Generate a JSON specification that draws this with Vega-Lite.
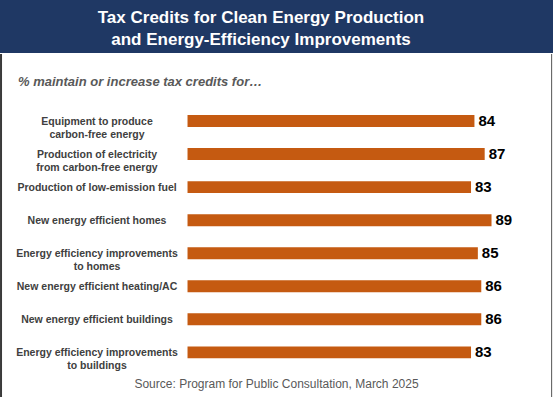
{
  "$schema": "https://vega.github.io/schema/vega-lite/v6.json",
  "padding": 0,
  "spacing": 0,
  "background": "white",
  "config": {"view": {"stroke": null}, "font": "Liberation Sans"},
  "title": {
    "text": "Source: Program for Public Consultation, March 2025",
    "orient": "bottom",
    "anchor": "middle",
    "offset": -20,
    "font": "Liberation Sans",
    "fontSize": 12,
    "fontWeight": "normal",
    "color": "#595959"
  },
  "vconcat": [
    {
      "width": 553,
      "height": 53,
      "view": {"fill": "#1f3864", "stroke": null},
      "data": {"values": [{"t": ["Tax Credits for Clean Energy Production", "and Energy-Efficiency Improvements"]}]},
      "mark": {"type": "text", "font": "Liberation Sans", "fontSize": 17, "fontWeight": "bold", "color": "white", "lineHeight": 22, "baseline": "middle", "align": "center", "dy": -8.5, "dx": -15.5},
      "encoding": {"text": {"field": "t"}}
    },
    {
      "width": 553,
      "height": 344,
      "title": {
        "text": "% maintain or increase tax credits for…",
        "orient": "top",
        "anchor": "start",
        "offset": -36,
        "dx": 18,
        "font": "Liberation Sans",
        "fontSize": 13,
        "fontWeight": "bold",
        "fontStyle": "italic",
        "color": "#595959"
      },
      "data": {"values": [
        {"item": "Equipment to produce carbon-free energy", "label": ["Equipment to produce", "carbon-free energy"], "value": 84},
        {"item": "Production of electricity from carbon-free energy", "label": ["Production of electricity", "from carbon-free energy"], "value": 87},
        {"item": "Production of low-emission fuel", "label": ["Production of low-emission fuel"], "value": 83},
        {"item": "New energy efficient homes", "label": ["New energy efficient homes"], "value": 89},
        {"item": "Energy efficiency improvements to homes", "label": ["Energy efficiency improvements", "to homes"], "value": 85},
        {"item": "New energy efficient heating/AC", "label": ["New energy efficient heating/AC"], "value": 86},
        {"item": "New energy efficient buildings", "label": ["New energy efficient buildings"], "value": 86},
        {"item": "Energy efficiency improvements to buildings", "label": ["Energy efficiency improvements", "to buildings"], "value": 83}
      ]},
      "encoding": {
        "y": {
          "field": "item",
          "type": "nominal",
          "sort": null,
          "axis": null,
          "scale": {"range": [50.5, 314.9], "paddingInner": 0.637, "paddingOuter": 0.3185}
        }
      },
      "layer": [
        {
          "mark": {"type": "bar", "color": "#c55a11"},
          "encoding": {
            "x": {"field": "value", "type": "quantitative", "axis": null, "scale": {"domain": [-54.9, 107.0], "nice": false, "zero": false}},
            "x2": {"datum": 0}
          }
        },
        {
          "mark": {"type": "text", "align": "left", "baseline": "middle", "dx": 4, "fontSize": 15, "fontWeight": "bold", "color": "#000000", "font": "Liberation Sans"},
          "encoding": {
            "x": {"field": "value", "type": "quantitative"},
            "text": {"field": "value", "type": "quantitative"}
          }
        },
        {
          "mark": {"type": "text", "align": "center", "baseline": "middle", "fontSize": 10.5, "fontWeight": "bold", "color": "#404040", "lineHeight": 12.5, "dy": 1, "font": "Liberation Sans"},
          "encoding": {
            "x": {"datum": -26.5},
            "text": {"field": "label"}
          }
        },
        {
          "data": {"values": [{"edge": "left"}]},
          "mark": {"type": "rule", "color": "#3a3a3a", "strokeWidth": 2},
          "encoding": {"x": {"datum": -54.6}, "y": null}
        },
        {
          "data": {"values": [{"edge": "right"}]},
          "mark": {"type": "rule", "color": "#555555", "strokeWidth": 1},
          "encoding": {"x": {"datum": 106.6}, "y": null}
        }
      ]
    }
  ]
}
